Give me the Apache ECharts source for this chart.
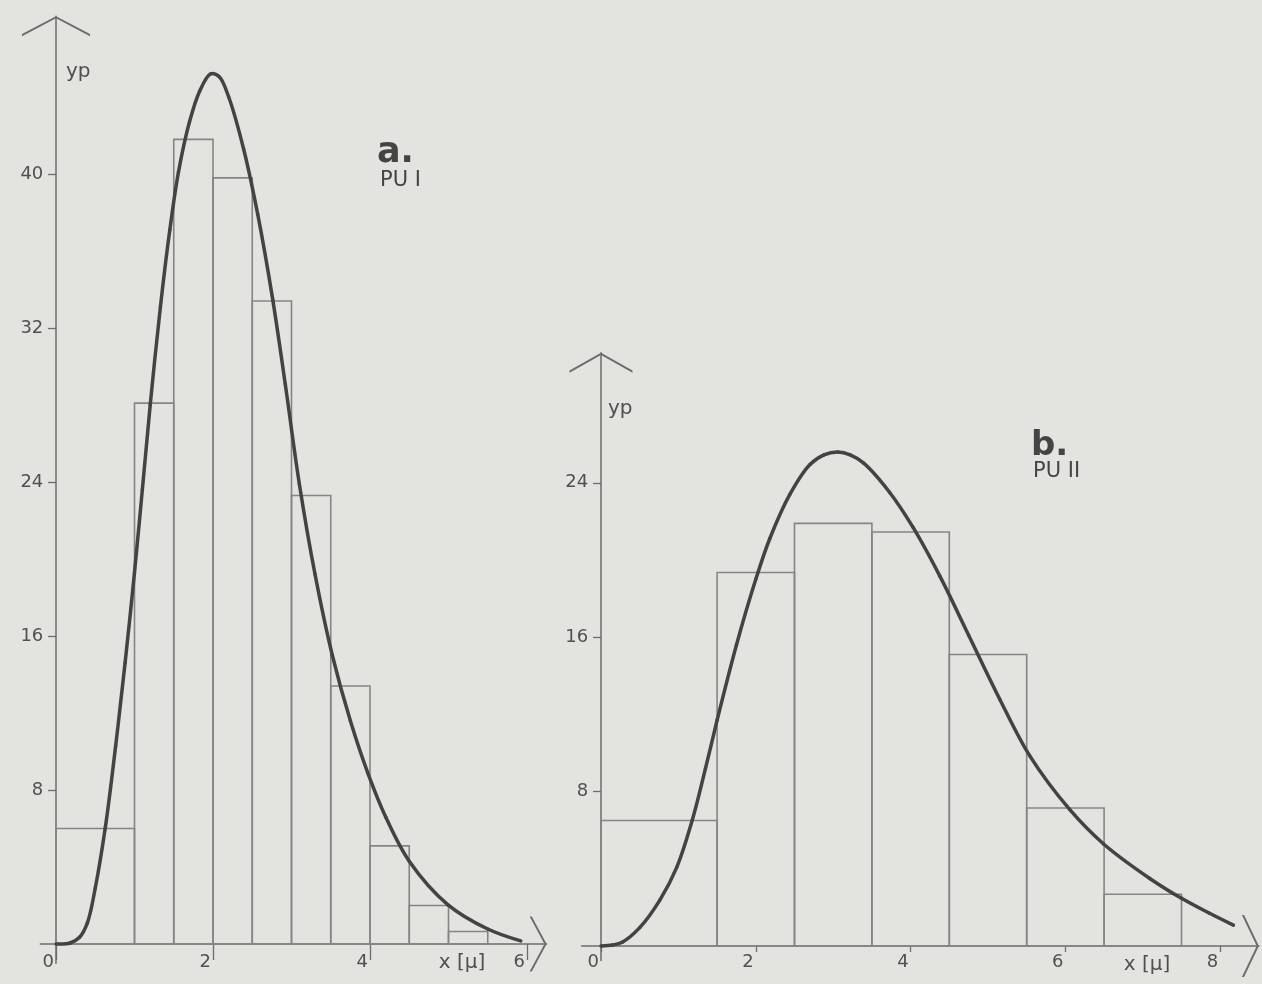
<!DOCTYPE html>
<html>
<head>
<meta charset="utf-8">
<script src="https://cdn.jsdelivr.net/npm/echarts@6/dist/echarts.min.js"></script>
<style>
html,body{margin:0;padding:0;background:#e3e4e0;}
#chart{width:1262px;height:984px;}
</style>
</head>
<body>
<div id="chart"></div>
<script>
// ---------- Panel a (PU I) ----------
const aBinStart = [0, 1, 1.5, 2, 2.5, 3, 3.5, 4, 4.5, 5];
const aBinEnd   = [1, 1.5, 2, 2.5, 3, 3.5, 4, 4.5, 5, 5.5];
const aFreq     = [6.0, 28.1, 41.8, 39.8, 33.4, 23.3, 13.4, 5.1, 2.0, 0.65];
const aCurveX = [0, 0.18, 0.3, 0.4, 0.5, 0.63, 0.76, 0.88, 1.0, 1.1, 1.2, 1.33, 1.45, 1.56, 1.7, 1.83, 1.97, 2.08, 2.2, 2.39, 2.57, 2.76, 2.92, 3.1, 3.3, 3.52, 3.75, 3.98, 4.2, 4.5, 4.99, 5.5, 5.92];
const aCurveY = [0, 0.05, 0.35, 1.1, 2.9, 6.1, 10.3, 14.6, 19.3, 23.6, 28.0, 33.1, 37.1, 40.1, 42.7, 44.3, 45.2, 45.05, 44.0, 41.3, 37.9, 33.5, 29.1, 23.9, 19.2, 15.0, 11.6, 8.8, 6.6, 4.3, 2.05, 0.78, 0.16];
const aXTicks = [0, 2, 4, 6];
const aYTicks = [8, 16, 24, 32, 40];

// ---------- Panel b (PU II) ----------
const bBinStart = [0, 1.5, 2.5, 3.5, 4.5, 5.5, 6.5];
const bBinEnd   = [1.5, 2.5, 3.5, 4.5, 5.5, 6.5, 7.5];
const bFreq     = [6.5, 19.35, 21.9, 21.45, 15.1, 7.15, 2.68];
const bCurveX = [0, 0.15, 0.28, 0.5, 0.76, 0.98, 1.18, 1.35, 1.5, 1.75, 2.0, 2.18, 2.44, 2.7, 2.88, 3.06, 3.22, 3.39, 3.73, 4.03, 4.38, 4.75, 5.15, 5.54, 6.06, 6.49, 7.09, 7.5, 7.85, 8.17];
const bCurveY = [0, 0.05, 0.21, 0.95, 2.38, 4.09, 6.53, 9.2, 11.7, 15.6, 19.0, 21.1, 23.4, 24.95, 25.45, 25.6, 25.45, 25.03, 23.5, 21.7, 19.15, 16.1, 12.8, 9.85, 7.05, 5.3, 3.5, 2.47, 1.72, 1.08];
const bXTicks = [0, 2, 4, 6, 8];
const bYTicks = [8, 16, 24];

const xAxisName = 'x [μ]';
const yAxisName = 'yp';

// ---------- styling / layout ----------
const FONT = 'DejaVu Sans';
const TEXT = '#505050';
const AXIS = '#6c6c6c';
const BAR = '#858585';
const CURVE = '#434343';

// scale frames: origin pixel, px per unit, axis ranges
const frameA = {ox: 56, oy: 944, kx: 78.5, ky: 19.25, xmin: -0.2, xmax: 6.25, ymin: -1.0, ymax: 48.2};
const frameB = {ox: 601, oy: 946, kx: 77.4, ky: 19.3, xmin: -0.25, xmax: 8.5, ymin: -0.75, ymax: 30.74};

function gridOf(f) {
  return {
    left: f.ox + f.xmin * f.kx,
    top: f.oy - f.ymax * f.ky,
    width: (f.xmax - f.xmin) * f.kx,
    height: (f.ymax - f.ymin) * f.ky,
    outerBoundsMode: 'none',
    containLabel: false
  };
}

function chevron(w, h, t) {
  return 'path://M0,' + (h - t) + ' L' + (w / 2) + ',0 L' + w + ',' + (h - t) +
         ' L' + w + ',' + h + ' L' + (w / 2) + ',' + t + ' L0,' + h + ' Z';
}

function xAxisOf(idx, f, ticks, tickLen, chevW, nameCenter, labelMargin) {
  const endPx = f.ox + f.xmax * f.kx;
  return {
    type: 'value', gridIndex: idx, min: f.xmin, max: f.xmax,
    axisLine: {
      show: true, onZero: true,
      lineStyle: {color: AXIS, width: 1.5},
      symbol: ['none', chevron(chevW, 17, 2.2)],
      symbolSize: [chevW, 17],
      symbolOffset: [0, -8.5]
    },
    axisTick: {show: true, customValues: ticks, length: tickLen, lineStyle: {color: AXIS, width: 1.3}},
    axisLabel: {
      customValues: ticks, align: 'right', margin: labelMargin,
      padding: [0, 2, 0, 0],
      color: TEXT, fontFamily: FONT, fontSize: 18
    },
    splitLine: {show: false},
    name: xAxisName, nameLocation: 'end', nameGap: nameCenter - endPx,
    nameMoveOverlap: false,
    nameTextStyle: {color: TEXT, fontFamily: FONT, fontSize: 20, align: 'center', verticalAlign: 'top', padding: [9, 0, 0, 0]}
  };
}

function yAxisOf(idx, f, ticks, chevW, namePad, labelMargin) {
  return {
    type: 'value', gridIndex: idx, min: f.ymin, max: f.ymax,
    axisLine: {
      show: true, onZero: true,
      lineStyle: {color: AXIS, width: 1.5},
      symbol: ['none', chevron(chevW, 20, 2.2)],
      symbolSize: [chevW, 20],
      symbolOffset: [0, -10]
    },
    axisTick: {show: true, customValues: ticks, length: 8, lineStyle: {color: AXIS, width: 1.3}},
    axisLabel: {customValues: ticks, margin: labelMargin, color: TEXT, fontFamily: FONT, fontSize: 18},
    splitLine: {show: false},
    name: yAxisName, nameLocation: 'end', nameGap: -56,
    nameMoveOverlap: false,
    nameTextStyle: {color: TEXT, fontFamily: FONT, fontSize: 20, align: 'left', verticalAlign: 'middle', padding: [0, 0, 0, namePad]}
  };
}

function histRender(params, api) {
  const x0 = api.value(0), x1 = api.value(1), h = api.value(2);
  const p0 = api.coord([x0, h]);
  const p1 = api.coord([x1, 0]);
  return {
    type: 'rect',
    shape: {x: p0[0], y: p0[1], width: p1[0] - p0[0], height: p1[1] - p0[1]},
    style: {fill: 'none', stroke: BAR, lineWidth: 1.6}
  };
}

// Smooth curve: centripetal Catmull-Rom segments between the data points,
// every point placed by the axes' scales (api.coord).
function curveRender(xs, ys) {
  return function (params, api) {
    const i = params.dataIndex;
    const n = xs.length;
    if (i >= n - 1) return null;
    const P = (k) => api.coord([xs[Math.max(0, Math.min(n - 1, k))], ys[Math.max(0, Math.min(n - 1, k))]]);
    const P0 = P(i - 1), P1 = P(i), P2 = P(i + 1), P3 = P(i + 2);
    const alpha = 0.5;
    const d01 = Math.hypot(P1[0] - P0[0], P1[1] - P0[1]);
    const d12 = Math.hypot(P2[0] - P1[0], P2[1] - P1[1]);
    const d23 = Math.hypot(P3[0] - P2[0], P3[1] - P2[1]);
    const a01 = Math.pow(d01, alpha), a12 = Math.pow(d12, alpha), a23 = Math.pow(d23, alpha);
    const b01 = a01 * a01, b12 = a12 * a12, b23 = a23 * a23;
    let c1 = [P1[0], P1[1]], c2 = [P2[0], P2[1]];
    if (a01 > 1e-6) {
      const A = 2 * b01 + 3 * a01 * a12 + b12, N = 3 * a01 * (a01 + a12);
      c1 = [(P1[0] * A - P0[0] * b12 + P2[0] * b01) / N, (P1[1] * A - P0[1] * b12 + P2[1] * b01) / N];
    }
    if (a23 > 1e-6) {
      const B = 2 * b23 + 3 * a23 * a12 + b12, M = 3 * a23 * (a23 + a12);
      c2 = [(P2[0] * B + P1[0] * b23 - P3[0] * b12) / M, (P2[1] * B + P1[1] * b23 - P3[1] * b12) / M];
    }
    return {
      type: 'bezierCurve',
      shape: {x1: P1[0], y1: P1[1], cpx1: c1[0], cpy1: c1[1], cpx2: c2[0], cpy2: c2[1], x2: P2[0], y2: P2[1]},
      style: {fill: 'none', stroke: CURVE, lineWidth: 3.5, lineCap: 'round'}
    };
  };
}

const aBars = aFreq.map((v, i) => [aBinStart[i], aBinEnd[i], v]);
const bBars = bFreq.map((v, i) => [bBinStart[i], bBinEnd[i], v]);
const aCurve = aCurveX.map((x, i) => [x, aCurveY[i]]);
const bCurve = bCurveX.map((x, i) => [x, bCurveY[i]]);

const chart = echarts.init(document.getElementById('chart'), null, {renderer: 'canvas'});
chart.setOption({
  backgroundColor: '#e3e4e0',
  animation: false,
  title: [
    {text: 'a.', left: 377, top: 135, padding: 0, textStyle: {fontFamily: FONT, fontSize: 35, fontWeight: 'bold', color: '#444'}},
    {text: 'PU I', left: 380, top: 170, padding: 0, textStyle: {fontFamily: FONT, fontSize: 21, fontWeight: 'normal', color: '#444'}},
    {text: 'b.', left: 1031, top: 429, padding: 0, textStyle: {fontFamily: FONT, fontSize: 34, fontWeight: 'bold', color: '#444'}},
    {text: 'PU II', left: 1033, top: 461, padding: 0, textStyle: {fontFamily: FONT, fontSize: 21, fontWeight: 'normal', color: '#444'}}
  ],
  grid: [gridOf(frameA), gridOf(frameB)],
  xAxis: [
    xAxisOf(0, frameA, aXTicks, 16, 55, 462, -10),
    xAxisOf(1, frameB, bXTicks, 6, 62, 1147, -7.5)
  ],
  yAxis: [
    yAxisOf(0, frameA, aYTicks, 68, 10, -3),
    yAxisOf(1, frameB, bYTicks, 63, 7, -6.5)
  ],
  series: [
    {type: 'custom', xAxisIndex: 0, yAxisIndex: 0, renderItem: histRender, data: aBars, encode: {x: [0, 1], y: 2}, z: 2},
    {type: 'custom', xAxisIndex: 1, yAxisIndex: 1, renderItem: histRender, data: bBars, encode: {x: [0, 1], y: 2}, z: 2},
    {type: 'custom', xAxisIndex: 0, yAxisIndex: 0, renderItem: curveRender(aCurveX, aCurveY), data: aCurve, encode: {x: 0, y: 1}, z: 3},
    {type: 'custom', xAxisIndex: 1, yAxisIndex: 1, renderItem: curveRender(bCurveX, bCurveY), data: bCurve, encode: {x: 0, y: 1}, z: 3}
  ]
});
</script>
</body>
</html>
